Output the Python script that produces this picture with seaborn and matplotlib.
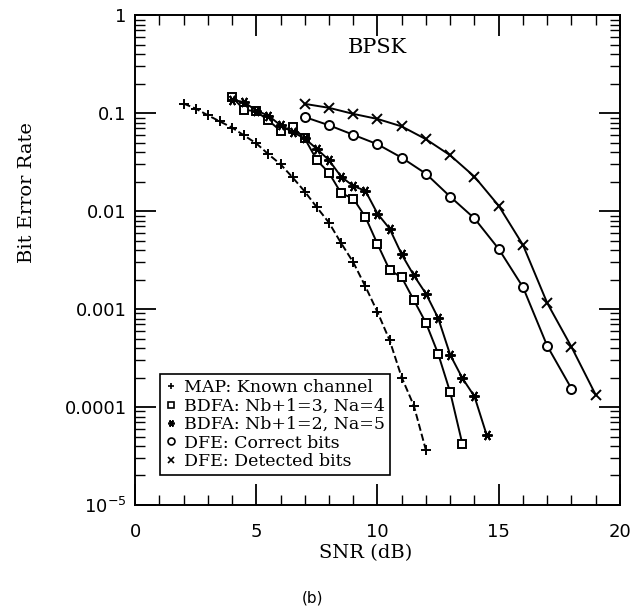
import numpy as np
import pandas as pd
import seaborn as sns
import matplotlib
matplotlib.use("Agg")
import matplotlib.pyplot as plt
from matplotlib.lines import Line2D
from matplotlib.ticker import FixedLocator, FixedFormatter, MultipleLocator, LogLocator, NullFormatter

# ---- data ----
map_snr = [2.0, 2.5, 3.0, 3.5, 4.0, 4.5, 5.0, 5.5, 6.0, 6.5, 7.0, 7.5, 8.0, 8.5, 9.0, 9.5, 10.0, 10.5, 11.0, 11.5, 12.0]
map_ber = [0.125, 0.111, 0.095, 0.082, 0.071, 0.059, 0.049, 0.038, 0.030, 0.022, 0.0158, 0.0109, 0.0076, 0.0047,
           0.0030, 0.0017, 0.00093, 0.00048, 0.00020, 0.000103, 0.000036]

bdfa3_snr = [4.0, 4.5, 5.0, 5.5, 6.0, 6.5, 7.0, 7.5, 8.0, 8.5, 9.0, 9.5, 10.0, 10.5, 11.0, 11.5, 12.0, 12.5, 13.0, 13.5]
bdfa3_ber = [0.146, 0.108, 0.104, 0.084, 0.066, 0.072, 0.055, 0.033, 0.0245, 0.0152, 0.0134, 0.0087, 0.0046,
             0.0025, 0.0021, 0.00123, 0.00072, 0.00035, 0.000141, 0.000042]

bdfa2_snr = [4.0, 4.5, 5.0, 5.5, 6.0, 6.5, 7.0, 7.5, 8.0, 8.5, 9.0, 9.5, 10.0, 10.5, 11.0, 11.5, 12.0, 12.5, 13.0,
             13.5, 14.0, 14.5]
bdfa2_ber = [0.137, 0.129, 0.106, 0.094, 0.075, 0.064, 0.055, 0.043, 0.033, 0.0224, 0.018, 0.0161, 0.0094, 0.0066,
             0.0036, 0.0022, 0.00143, 0.00081, 0.00034, 0.000197, 0.000128, 0.000052]

dfec_snr = [7, 8, 9, 10, 11, 12, 13, 14, 15, 16, 17, 18]
dfec_ber = [0.091, 0.075, 0.060, 0.048, 0.035, 0.024, 0.014, 0.0084, 0.0041, 0.00167, 0.00042, 0.000154]

dfed_snr = [7, 8, 9, 10, 11, 12, 13, 14, 15, 16, 17, 18, 19]
dfed_ber = [0.124, 0.113, 0.098, 0.087, 0.073, 0.054, 0.037, 0.0224, 0.0113, 0.0045, 0.00115, 0.00041, 0.000133]

labels = ["MAP: Known channel", "BDFA: Nb+1=3, Na=4", "BDFA: Nb+1=2, Na=5",
          "DFE: Correct bits", "DFE: Detected bits"]
y_tick_vals = [1e-5, 1e-4, 1e-3, 1e-2, 1e-1, 1]
y_tick_labels = [r"$10^{-5}$", "0.0001", "0.001", "0.01", "0.1", "1"]
x_tick_vals = [0, 5, 10, 15, 20]

# ---- style ----
sns.set_theme(style="ticks")
plt.rcParams["font.family"] = ["DejaVu Serif"]
plt.rcParams["mathtext.fontset"] = "dejavusans"
plt.rcParams["text.color"] = "black"
plt.rcParams["axes.labelcolor"] = "black"
plt.rcParams["xtick.color"] = "black"
plt.rcParams["ytick.color"] = "black"

fig = plt.figure(figsize=(6.36, 6.16), dpi=100)
ax = fig.add_axes([0.2123, 0.1802, 0.7625, 0.7954])

star = (6, 2, 90)
series = [
    (map_snr, map_ber, "+", "--", 7),
    (bdfa3_snr, bdfa3_ber, "s", "-", 6.2),
    (bdfa2_snr, bdfa2_ber, star, "-", 7.5),
    (dfec_snr, dfec_ber, "o", "-", 6.5),
    (dfed_snr, dfed_ber, "x", "-", 6.5),
]
for xs, ys, mk, ls, ms in series:
    df = pd.DataFrame({"snr": xs, "ber": ys})
    sns.lineplot(data=df, x="snr", y="ber", ax=ax, color="black", linestyle=ls, linewidth=1.4,
                 marker=mk, markersize=ms, markerfacecolor="white", markeredgecolor="black",
                 markeredgewidth=1.4, sort=False)

ax.set_yscale("log")
ax.set_xlim(0, 20)
ax.set_ylim(1e-5, 1)
ax.xaxis.set_major_locator(FixedLocator(x_tick_vals))
ax.xaxis.set_minor_locator(MultipleLocator(1))
ax.yaxis.set_major_locator(FixedLocator(y_tick_vals))
ax.yaxis.set_major_formatter(FixedFormatter(y_tick_labels))
ax.yaxis.set_minor_locator(LogLocator(base=10, subs=np.arange(2, 10)))
ax.yaxis.set_minor_formatter(NullFormatter())
ax.tick_params(which="both", direction="in", top=True, right=True, color="black", labelcolor="black")
ax.tick_params(which="major", length=15, width=1.3, labelsize=13)
ax.tick_params(axis="x", which="major", pad=13)
ax.tick_params(axis="y", which="major", pad=6)
ax.tick_params(which="minor", length=7, width=1.0)
for lab in ax.get_xticklabels() + ax.get_yticklabels():
    lab.set_family("DejaVu Sans")
for sp in ax.spines.values():
    sp.set_linewidth(1.4)
    sp.set_color("black")

ax.set_xlabel("SNR (dB)", fontsize=14, color="black")
ax.set_ylabel("Bit Error Rate", fontsize=14, color="black")
ax.xaxis.set_label_coords(0.476, -0.098)
ax.yaxis.set_label_coords(-0.223, 0.637)
ax.xaxis.label.set_va("center")
ax.yaxis.label.set_va("center")
ax.text(0.499, 0.933, "BPSK", transform=ax.transAxes, fontsize=15, ha="center", va="center",
        color="black")

handles = [Line2D([], [], color="black", linestyle="none", marker=m, markersize=5,
                  markerfacecolor="white", markeredgewidth=1.2) for _, _, m, _, _ in series]
leg = ax.legend(handles, labels, loc="lower left", bbox_to_anchor=(0.051, 0.061), fontsize=12.5,
                frameon=True, fancybox=False, edgecolor="black", framealpha=1, handlelength=0.7,
                handletextpad=0.4, labelspacing=0.08, borderpad=0.3, borderaxespad=0)
leg.get_frame().set_linewidth(1.2)
for t in leg.get_texts():
    t.set_color("black")

fig.text(0.492, 0.029, "(b)", ha="center", va="center", fontsize=11, family="DejaVu Sans",
         color="black")

fig.savefig("out.png", dpi=100, facecolor="white")
